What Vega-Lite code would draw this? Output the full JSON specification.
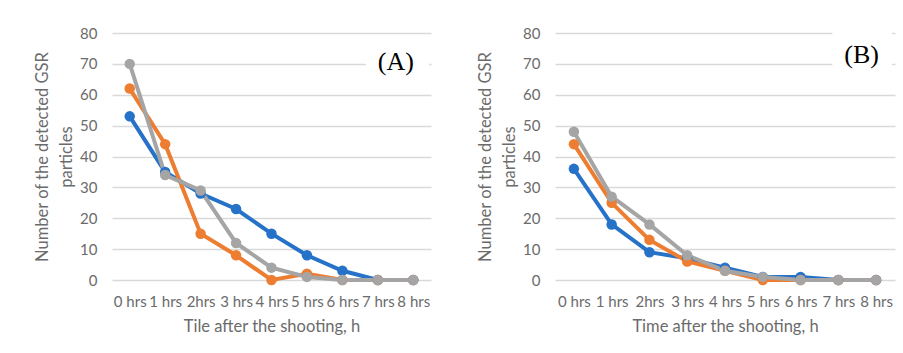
{
  "$schema": "https://vega.github.io/schema/vega-lite/v6.json",
  "padding": {"left": 34, "top": 26, "right": 5, "bottom": 5},
  "spacing": 46,
  "config": {
    "font": "Lato",
    "view": {"stroke": null},
    "axis": {
      "labelColor": "#6b6b6b",
      "titleColor": "#6b6b6b",
      "labelFontSize": 15,
      "titleFontSize": 16.5,
      "titleFontWeight": "normal",
      "domain": false,
      "ticks": false,
      "tickSize": 0
    },
    "axisX": {"labelAngle": 0, "labelPadding": 14, "titlePadding": 9},
    "axisY": {"tickCount": 8, "labelOverlap": false, "gridColor": "#d9d9d9", "gridWidth": 1.3, "labelPadding": 15, "titlePadding": 5, "titleLineHeight": 24}
  },
  "datasets": {
    "A": [
      {"time": "0 hrs", "series": "S1", "value": 53}, {"time": "1 hrs", "series": "S1", "value": 35}, {"time": "2hrs", "series": "S1", "value": 28}, {"time": "3 hrs", "series": "S1", "value": 23}, {"time": "4 hrs", "series": "S1", "value": 15}, {"time": "5 hrs", "series": "S1", "value": 8}, {"time": "6 hrs", "series": "S1", "value": 3}, {"time": "7 hrs", "series": "S1", "value": 0}, {"time": "8 hrs", "series": "S1", "value": 0},
      {"time": "0 hrs", "series": "S2", "value": 62}, {"time": "1 hrs", "series": "S2", "value": 44}, {"time": "2hrs", "series": "S2", "value": 15}, {"time": "3 hrs", "series": "S2", "value": 8}, {"time": "4 hrs", "series": "S2", "value": 0}, {"time": "5 hrs", "series": "S2", "value": 2}, {"time": "6 hrs", "series": "S2", "value": 0}, {"time": "7 hrs", "series": "S2", "value": 0}, {"time": "8 hrs", "series": "S2", "value": 0},
      {"time": "0 hrs", "series": "S3", "value": 70}, {"time": "1 hrs", "series": "S3", "value": 34}, {"time": "2hrs", "series": "S3", "value": 29}, {"time": "3 hrs", "series": "S3", "value": 12}, {"time": "4 hrs", "series": "S3", "value": 4}, {"time": "5 hrs", "series": "S3", "value": 1}, {"time": "6 hrs", "series": "S3", "value": 0}, {"time": "7 hrs", "series": "S3", "value": 0}, {"time": "8 hrs", "series": "S3", "value": 0}
    ],
    "B": [
      {"time": "0 hrs", "series": "S1", "value": 36}, {"time": "1 hrs", "series": "S1", "value": 18}, {"time": "2hrs", "series": "S1", "value": 9}, {"time": "3 hrs", "series": "S1", "value": 7}, {"time": "4 hrs", "series": "S1", "value": 4}, {"time": "5 hrs", "series": "S1", "value": 1}, {"time": "6 hrs", "series": "S1", "value": 1}, {"time": "7 hrs", "series": "S1", "value": 0}, {"time": "8 hrs", "series": "S1", "value": 0},
      {"time": "0 hrs", "series": "S2", "value": 44}, {"time": "1 hrs", "series": "S2", "value": 25}, {"time": "2hrs", "series": "S2", "value": 13}, {"time": "3 hrs", "series": "S2", "value": 6}, {"time": "4 hrs", "series": "S2", "value": 3}, {"time": "5 hrs", "series": "S2", "value": 0}, {"time": "6 hrs", "series": "S2", "value": 0}, {"time": "7 hrs", "series": "S2", "value": 0}, {"time": "8 hrs", "series": "S2", "value": 0},
      {"time": "0 hrs", "series": "S3", "value": 48}, {"time": "1 hrs", "series": "S3", "value": 27}, {"time": "2hrs", "series": "S3", "value": 18}, {"time": "3 hrs", "series": "S3", "value": 8}, {"time": "4 hrs", "series": "S3", "value": 3}, {"time": "5 hrs", "series": "S3", "value": 1}, {"time": "6 hrs", "series": "S3", "value": 0}, {"time": "7 hrs", "series": "S3", "value": 0}, {"time": "8 hrs", "series": "S3", "value": 0}
    ],
    "labA": [{"time": "7 hrs", "time2": "8 hrs", "value": 66, "value2": 75, "label": "(A)", "ty": 70.6}],
    "labB": [{"time": "7 hrs", "time2": "8 hrs", "value": 66, "value2": 82, "label": "(B)", "ty": 72.8}]
  },
  "hconcat": [
    {
      "width": 319,
      "height": 247,
      "encoding": {
        "x": {"field": "time", "type": "ordinal", "sort": ["0 hrs","1 hrs","2hrs","3 hrs","4 hrs","5 hrs","6 hrs","7 hrs","8 hrs"], "scale": {"type": "point", "padding": 0.5, "domain": ["0 hrs","1 hrs","2hrs","3 hrs","4 hrs","5 hrs","6 hrs","7 hrs","8 hrs"]}, "axis": {"title": "Tile after the shooting, h"}},
        "y": {"field": "value", "type": "quantitative", "scale": {"domain": [0, 80]}, "axis": {"title": ["Number of the detected GSR", "particles"]}}
      },
      "layer": [
        {
          "data": {"name": "A"},
          "mark": {"type": "line", "strokeWidth": 4, "point": {"filled": true, "size": 110}},
          "encoding": {
            "color": {"field": "series", "type": "nominal", "scale": {"domain": ["S1","S2","S3"], "range": ["#2672C8","#ED7D31","#A5A5A5"]}, "legend": null}
          }
        },
        {
          "data": {"name": "labA"},
          "mark": {"type": "rect", "fill": "white", "xOffset": -12, "x2Offset": 16},
          "encoding": {
            "x2": {"field": "time2"},
            "y2": {"field": "value2"}
          }
        },
        {
          "data": {"name": "labA"},
          "mark": {"type": "text", "font": "Liberation Serif", "fontSize": 26, "align": "left", "baseline": "middle", "dx": 0, "color": "#000000"},
          "encoding": {
            "y": {"field": "ty", "type": "quantitative", "title": ["Number of the detected GSR", "particles"]},
            "text": {"field": "label"}
          }
        }
      ]
    },
    {
      "width": 340,
      "height": 247,
      "encoding": {
        "x": {"field": "time", "type": "ordinal", "sort": ["0 hrs","1 hrs","2hrs","3 hrs","4 hrs","5 hrs","6 hrs","7 hrs","8 hrs"], "scale": {"type": "point", "padding": 0.5, "domain": ["0 hrs","1 hrs","2hrs","3 hrs","4 hrs","5 hrs","6 hrs","7 hrs","8 hrs"]}, "axis": {"title": "Time after the shooting, h"}},
        "y": {"field": "value", "type": "quantitative", "scale": {"domain": [0, 80]}, "axis": {"title": ["Number of the detected GSR", "particles"]}}
      },
      "layer": [
        {
          "data": {"name": "B"},
          "mark": {"type": "line", "strokeWidth": 4, "point": {"filled": true, "size": 110}},
          "encoding": {
            "color": {"field": "series", "type": "nominal", "scale": {"domain": ["S1","S2","S3"], "range": ["#2672C8","#ED7D31","#A5A5A5"]}, "legend": null}
          }
        },
        {
          "data": {"name": "labB"},
          "mark": {"type": "rect", "fill": "white", "xOffset": -6, "x2Offset": 16},
          "encoding": {
            "x2": {"field": "time2"},
            "y2": {"field": "value2"}
          }
        },
        {
          "data": {"name": "labB"},
          "mark": {"type": "text", "font": "Liberation Serif", "fontSize": 26, "align": "left", "baseline": "middle", "dx": 6, "color": "#000000"},
          "encoding": {
            "y": {"field": "ty", "type": "quantitative", "title": ["Number of the detected GSR", "particles"]},
            "text": {"field": "label"}
          }
        }
      ]
    }
  ]
}
